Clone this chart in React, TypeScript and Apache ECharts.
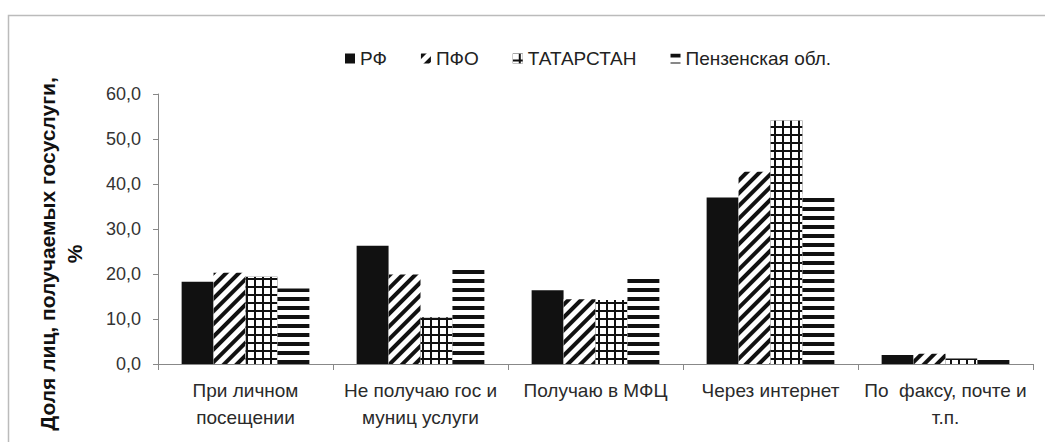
import React, { useEffect, useRef } from "react";
import * as echarts from "echarts";

const categories = [
  "При личном\nпосещении",
  "Не получаю гос и\nмуниц услуги",
  "Получаю в МФЦ",
  "Через интернет",
  "По  факсу, почте и\nт.п.",
];
const seriesNames = ["РФ", "ПФО", "ТАТАРСТАН", "Пензенская обл."];
const rf = [18.3, 26.3, 16.4, 37.0, 2.0];
const pfo = [20.3, 19.9, 14.4, 42.7, 2.3];
const tatarstan = [19.4, 10.4, 14.2, 54.1, 1.2];
const penza = [16.8, 21.3, 19.8, 37.8, 1.6];
const yTitle = "Доля лиц, получаемых госуслуги,\n%";

export default function App() {
  const ref = useRef<HTMLDivElement>(null);
  useEffect(() => {
    if (!ref.current) return;
    const chart = echarts.init(ref.current, undefined, { renderer: "svg" });
    const font = "'Liberation Sans', Arial, sans-serif";
    const common = { type: "bar" as const, barGap: "0%", barCategoryGap: "27%" };
    chart.setOption({
      animation: false,
      backgroundColor: "#fff",
      textStyle: { fontFamily: font },
      legend: {
        top: 44,
        left: 340,
        icon: "rect",
        itemWidth: 10,
        itemHeight: 10,
        itemGap: 34,
        textStyle: { fontSize: 19, color: "#222", fontFamily: font },
        data: seriesNames,
      },
      grid: { left: 158, right: 12, top: 94, bottom: 78 },
      xAxis: {
        type: "category",
        data: categories,
        axisLine: { lineStyle: { color: "#888", width: 1 } },
        axisTick: { show: true, length: 6, lineStyle: { color: "#888" } },
        axisLabel: {
          interval: 0,
          fontSize: 19,
          lineHeight: 27,
          color: "#2a2a2a",
          margin: 13,
          fontFamily: font,
        },
      },
      yAxis: {
        type: "value",
        min: 0,
        max: 60,
        interval: 10,
        splitLine: { show: false },
        axisLine: { show: true, lineStyle: { color: "#888", width: 1 } },
        axisTick: { show: true, length: 5, lineStyle: { color: "#888" } },
        axisLabel: {
          fontSize: 18,
          color: "#333",
          margin: 17,
          fontFamily: font,
          formatter: (v: number) => v.toFixed(1).replace(".", ","),
        },
      },
      graphic: [
        {
          type: "rect",
          shape: { x: 8.5, y: 15.5, width: 1200, height: 600 },
          style: { fill: "none", stroke: "#bbb", lineWidth: 1.5 },
          silent: true,
        },
        {
          type: "text",
          x: 61,
          y: 254,
          rotation: Math.PI / 2,
          style: {
            text: yTitle,
            fontSize: 21,
            fontWeight: "bold",
            fontFamily: font,
            fill: "#111",
            align: "center",
            verticalAlign: "middle",
            lineHeight: 27,
          },
        },
      ],
      series: [
        {
          ...common,
          name: seriesNames[0],
          data: rf,
          itemStyle: { color: "#111" },
        },
        {
          ...common,
          name: seriesNames[1],
          data: pfo,
          itemStyle: {
            color: "#fff",
            decal: {
              symbol: "rect",
              symbolSize: 1,
              color: "#111",
              dashArrayX: [1, 0],
              dashArrayY: [4, 5],
              rotation: -Math.PI / 4,
            },
          },
        },
        {
          ...common,
          name: seriesNames[2],
          data: tatarstan,
          itemStyle: {
            color: "#111",
            decal: {
              symbol: "rect",
              symbolSize: 1,
              color: "#fff",
              dashArrayX: [6, 2],
              dashArrayY: [6, 2],
              rotation: 0,
            },
          },
        },
        {
          ...common,
          name: seriesNames[3],
          data: penza,
          itemStyle: {
            color: "#fff",
            decal: {
              symbol: "rect",
              symbolSize: 1,
              color: "#111",
              dashArrayX: [1, 0],
              dashArrayY: [4, 5],
              rotation: 0,
            },
          },
        },
      ],
    });
    return () => chart.dispose();
  }, []);
  return (
    <div
      ref={ref}
      style={{ position: "absolute", left: 0, top: 0, width: 1045, height: 442 }}
    />
  );
}
